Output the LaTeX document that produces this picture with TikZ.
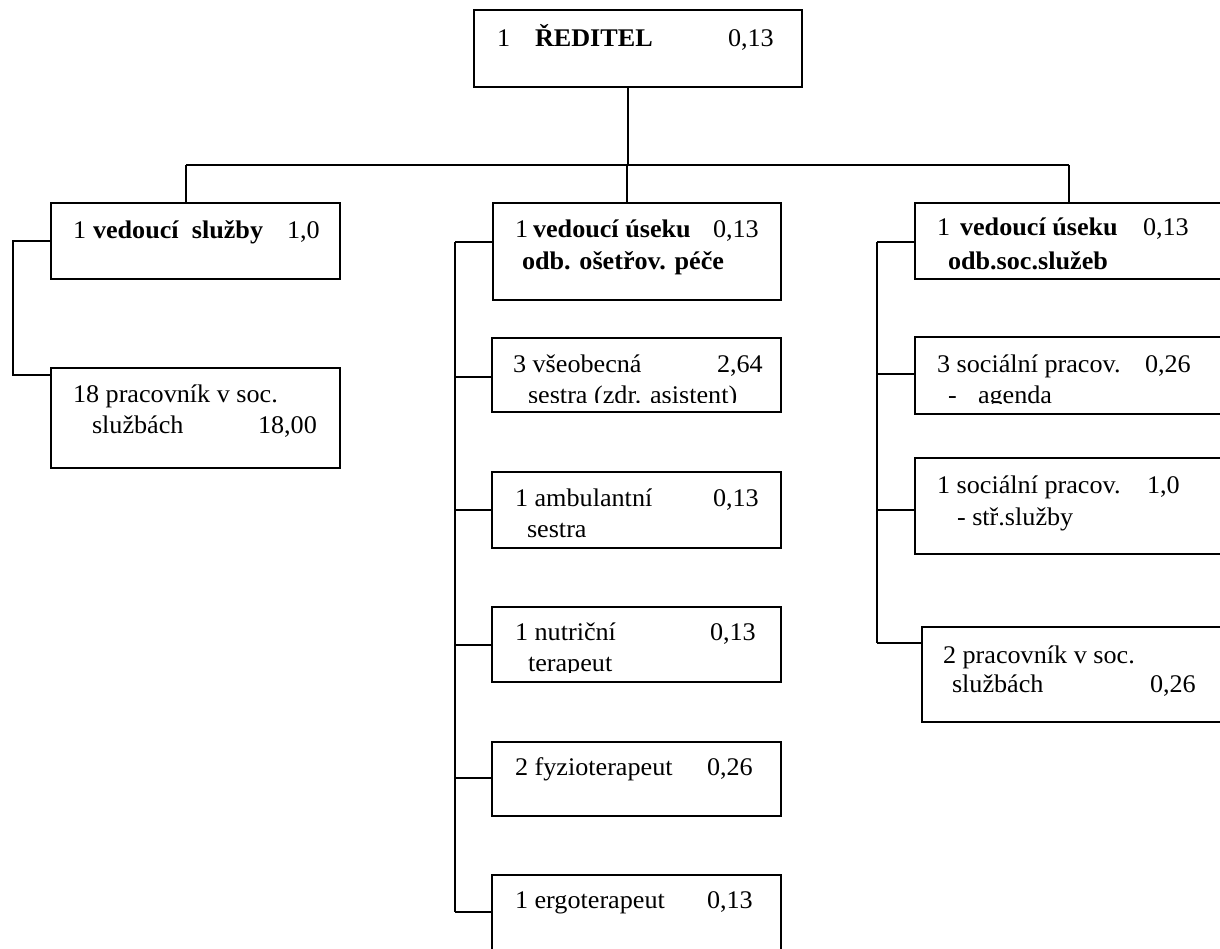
\documentclass[tikz,border=0pt]{standalone}
\usepackage{fontspec}
\setmainfont{Liberation Serif}[FakeStretch=1.03]
\newcommand\orgfs{\fontsize{25.4}{31}\selectfont}
\tikzset{
  box/.style={draw, line width=1.8pt, inner sep=0pt, outer sep=0pt},
  conn/.style={draw, line width=1.5pt},
  txt/.style={anchor=base west, inner sep=0pt, outer sep=0pt, font=\orgfs},
  btxt/.style={txt, font=\orgfs\bfseries}
}
\begin{document}
\begin{tikzpicture}[x=1pt,y=-1pt]
\useasboundingbox (0,0) rectangle (1220,948);
\clip (0,0) rectangle (1220,948);

% boxes
\node[box, minimum width=328pt, minimum height=77pt] (D) at (638,48.5) {};
\node[box, minimum width=289pt, minimum height=76pt] (A) at (195.5,241) {};
\node[box, minimum width=289pt, minimum height=100pt] (B) at (195.5,418) {};
\node[box, minimum width=288pt, minimum height=97pt] (M1) at (637,251.5) {};
\node[box, minimum width=289pt, minimum height=74pt] (M2) at (636.5,375) {};
\node[box, minimum width=289pt, minimum height=76pt] (M3) at (636.5,510) {};
\node[box, minimum width=289pt, minimum height=75pt] (M4) at (636.5,644.5) {};
\node[box, minimum width=289pt, minimum height=74pt] (M5) at (636.5,779) {};
\node[box, minimum width=289pt, minimum height=90pt] (M6) at (636.5,920) {};
\node[box, minimum width=330pt, minimum height=76pt] (R1) at (1080,241) {};
\node[box, minimum width=330pt, minimum height=77pt] (R2) at (1080,375.5) {};
\node[box, minimum width=330pt, minimum height=96pt] (R3) at (1080,506) {};
\node[box, minimum width=323pt, minimum height=95pt] (R4) at (1083.5,674.5) {};

% connector coordinates
\coordinate (bus) at (628,165);
\coordinate (busL) at (186,165);
\coordinate (busM) at (627,165);
\coordinate (busR) at (1069,165);
\coordinate (lb) at (13,375);
\coordinate (m1) at (455,242);
\coordinate (m2) at (455,377);
\coordinate (m3) at (455,510);
\coordinate (m4) at (455,645);
\coordinate (m5) at (455,778);
\coordinate (m6) at (455,912);
\coordinate (r1) at (877,242);
\coordinate (r2) at (877,374);
\coordinate (r3) at (877,510);
\coordinate (r4) at (877,643);

% top tree
\draw[conn] (bus |- D.south) -- (bus);
\draw[conn] (busL) -- (busR);
\draw[conn] (busL) -- (busL |- A.north);
\draw[conn] (busM) -- (busM |- M1.north);
\draw[conn] (busR) -- (busR |- R1.north);

% left branch
\draw[conn] (A.west) -| (lb) -- (lb -| B.west);

% middle branch
\draw[conn] (m1) -- (m6);
\draw[conn] (m1) -- (m1 -| M1.west);
\draw[conn] (m2) -- (m2 -| M2.west);
\draw[conn] (m3) -- (m3 -| M3.west);
\draw[conn] (m4) -- (m4 -| M4.west);
\draw[conn] (m5) -- (m5 -| M5.west);
\draw[conn] (m6) -- (m6 -| M6.west);

% right branch
\draw[conn] (r1) -- (r4);
\draw[conn] (r1) -- (r1 -| R1.west);
\draw[conn] (r2) -- (r2 -| R2.west);
\draw[conn] (r3) -- (r3 -| R3.west);
\draw[conn] (r4) -- (r4 -| R4.west);

% texts: director
\node[txt] (d1) at (497,46) {1};
\node[btxt] (d2) at (535,46) {ŘEDITEL};
\node[txt] (d3) at (728,46) {0,13};

% A
\node[txt] (a1) at (73,238) {1};
\node[btxt] (a2) at (93,238) {vedoucí\ \ služby};
\node[txt] (a3) at (287,238) {1,0};
% B
\node[txt] (b1) at (73,402) {18 pracovník v soc.};
\node[txt] (b2) at (92,433) {službách};
\node[txt] (b3) at (258,433) {18,00};

% M1
\node[txt] (m1a) at (515,237) {1};
\node[btxt] (m1b) at (533,237) {vedoucí úseku};
\node[txt] (m1c) at (713,237) {0,13};
\node[btxt] (m1d) at (522,269) {odb. ošetřov. péče};
% M2
\node[txt] (m2a) at (513,372) {3 všeobecná};
\node[txt] (m2b) at (717,372) {2,64};
\begin{scope}
\clip (490,380) rectangle (790,402);
\node[txt] (m2c) at (528,403) {sestra (zdr. asistent)};
\end{scope}
% M3
\node[txt] (m3a) at (515,506) {1 ambulantní};
\node[txt] (m3b) at (713,506) {0,13};
\node[txt] (m3c) at (527,537) {sestra};
% M4
\node[txt] (m4a) at (515,640) {1 nutriční};
\node[txt] (m4b) at (710,640) {0,13};
\begin{scope}
\clip (490,648) rectangle (790,672);
\node[txt] (m4c) at (528,671) {terapeut};
\end{scope}
% M5
\node[txt] (m5a) at (515,775) {2 fyzioterapeut};
\node[txt] (m5b) at (707,775) {0,26};
% M6
\node[txt] (m6a) at (515,908) {1 ergoterapeut};
\node[txt] (m6b) at (707,908) {0,13};

% R1
\node[txt] (r1a) at (937,235) {1};
\node[btxt] (r1b) at (960,235) {vedoucí úseku};
\node[txt] (r1c) at (1143,235) {0,13};
\node[btxt] (r1d) at (948,269) {odb.soc.služeb};
% R2
\node[txt] (r2a) at (937,372) {3 sociální pracov.};
\node[txt] (r2b) at (1145,372) {0,26};
\begin{scope}
\clip (913,380) rectangle (1220,403);
\node[txt] (r2c) at (948,403) {-};
\node[txt] (r2d) at (978,403) {agenda};
\end{scope}
% R3
\node[txt] (r3a) at (937,493) {1 sociální pracov.};
\node[txt] (r3b) at (1147,493) {1,0};
\node[txt] (r3c) at (957,525) {- stř.služby};
% R4
\node[txt] (r4a) at (943,663) {2 pracovník v soc.};
\node[txt] (r4b) at (952,692) {službách};
\node[txt] (r4c) at (1150,692) {0,26};
\end{tikzpicture}
\end{document}
